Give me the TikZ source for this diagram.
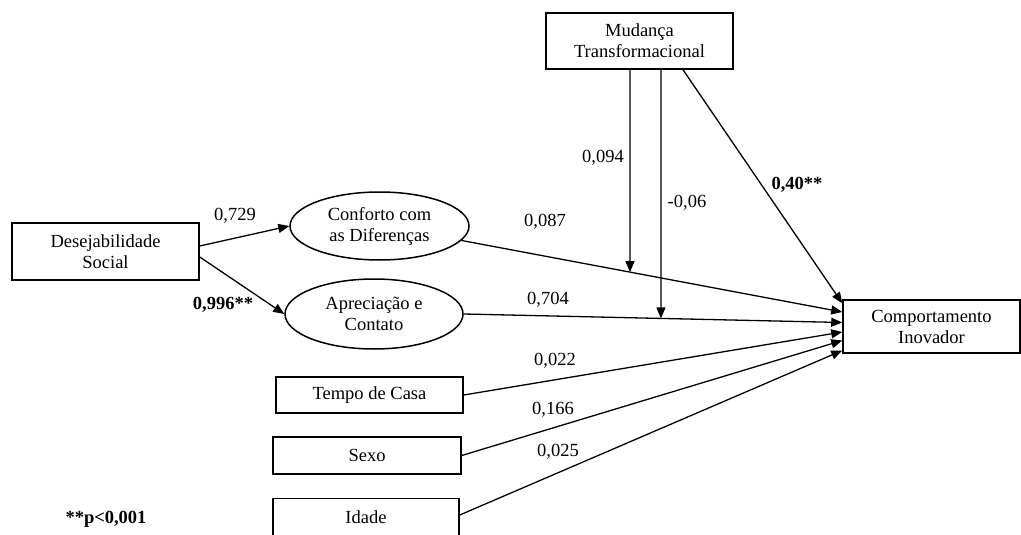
\documentclass[tikz,border=0pt]{standalone}
\usepackage{fontspec}
\setmainfont{Liberation Serif}
\usetikzlibrary{arrows.meta,shapes.geometric}

\begin{document}
\begin{tikzpicture}[x=1pt, y=-1pt,
		caixa/.style={draw, line width=1.5pt, rectangle, inner sep=0pt, align=center, font=\fontsize{18.5}{21}\selectfont},
		elipse/.style={draw, line width=1.5pt, ellipse, inner sep=0pt, align=center, font=\fontsize{18.5}{21}\selectfont},
		seta/.style={line width=1.3pt, -{Triangle[length=11pt, width=9pt]}},
		rotulo/.style={inner sep=0pt, font=\fontsize{18.5}{21}\selectfont}]
		%%%%% START %%%%%
		
		\useasboundingbox (0, 0) rectangle (1021, 535);
		
		\node[caixa, minimum width=187pt, minimum height=57pt] (desej) at (105.5, 251.5) {Desejabilidade\\Social};
		\node[elipse, minimum width=179pt, minimum height=68pt] (conforto) at (379.5, 226) {Conforto com\\as Diferenças};
		\node[elipse, minimum width=178pt, minimum height=70pt] (apreciacao) at (374, 314) {Apreciação e\\Contato};
		\node[caixa, minimum width=187pt, minimum height=56pt] (mudanca) at (639.5, 41) {Mudança\\Transformacional};
		\node[caixa, minimum width=177pt, minimum height=53pt] (comport) at (931.5, 326.5) {Comportamento\\Inovador};
		
		\node[caixa, minimum width=187pt, minimum height=36pt] (tempo) at (369.5, 395) {Tempo de Casa};
		\node[caixa, minimum width=188pt, minimum height=37pt] (sexo) at (367, 455.5) {Sexo};
		\node[caixa, minimum width=186pt, minimum height=37pt] (idade) at (366, 517) {Idade};
		
		\coordinate (c1) at ([yshift=14.5pt]comport.west);
		\coordinate (c2) at ([yshift=4pt]comport.west);
		\coordinate (c3) at ([yshift=-5.5pt]comport.west);
		\coordinate (c4) at ([yshift=-14pt]comport.west);
		\coordinate (c5) at ([yshift=-24pt]comport.west);
		\coordinate (s1) at (conforto.-10);
		\coordinate (s2) at (apreciacao.east);
		
		\draw[seta] ([yshift=5.5pt]desej.east) -- (conforto.west);
		\draw[seta] ([yshift=-5.5pt]desej.east) -- (apreciacao.west);
		
		\draw[seta] (s1) -- (c1);
		\draw[seta] (s2) -- (c2);
		\draw[seta] (tempo.east) -- (c3);
		\draw[seta] (sexo.east) -- (c4);
		\draw[seta] ([yshift=2pt]idade.east) -- (c5);
		
		\coordinate (m1) at ([xshift=-9.5pt]mudanca.south);
		\coordinate (m2) at ([xshift=21.5pt]mudanca.south);
		\coordinate (m1b) at (m1 |- comport.south);
		\coordinate (m2b) at (m2 |- comport.south);
		\draw[seta] (m1) -- (intersection of s1--c1 and m1--m1b);
		\draw[seta] (m2) -- (intersection of s2--c2 and m2--m2b);
		\draw[seta] ([xshift=43.5pt]mudanca.south) -- ([yshift=-4pt]comport.north west);
		
		\node[rotulo] (l729) at (235, 216) {0,729};
		\node[rotulo] (l996) at (223, 305) {\textbf{0,996**}};
		\node[rotulo] (l087) at (545, 222) {0,087};
		\node[rotulo] (l704) at (548, 300) {0,704};
		\node[rotulo] (l094) at (603, 158) {0,094};
		\node[rotulo] (l006) at (687, 203) {-0,06};
		\node[rotulo] (l040) at (797, 185) {\textbf{0,40**}};
		\node[rotulo] (l022) at (555, 361) {0,022};
		\node[rotulo] (l166) at (553, 410) {0,166};
		\node[rotulo] (l025) at (558, 452) {0,025};
		
		\node[rotulo] (nota) at (106, 519) {\textbf{**p<0,001}};
		
		%%%%% END %%%%%
	\end{tikzpicture}
\end{document}
